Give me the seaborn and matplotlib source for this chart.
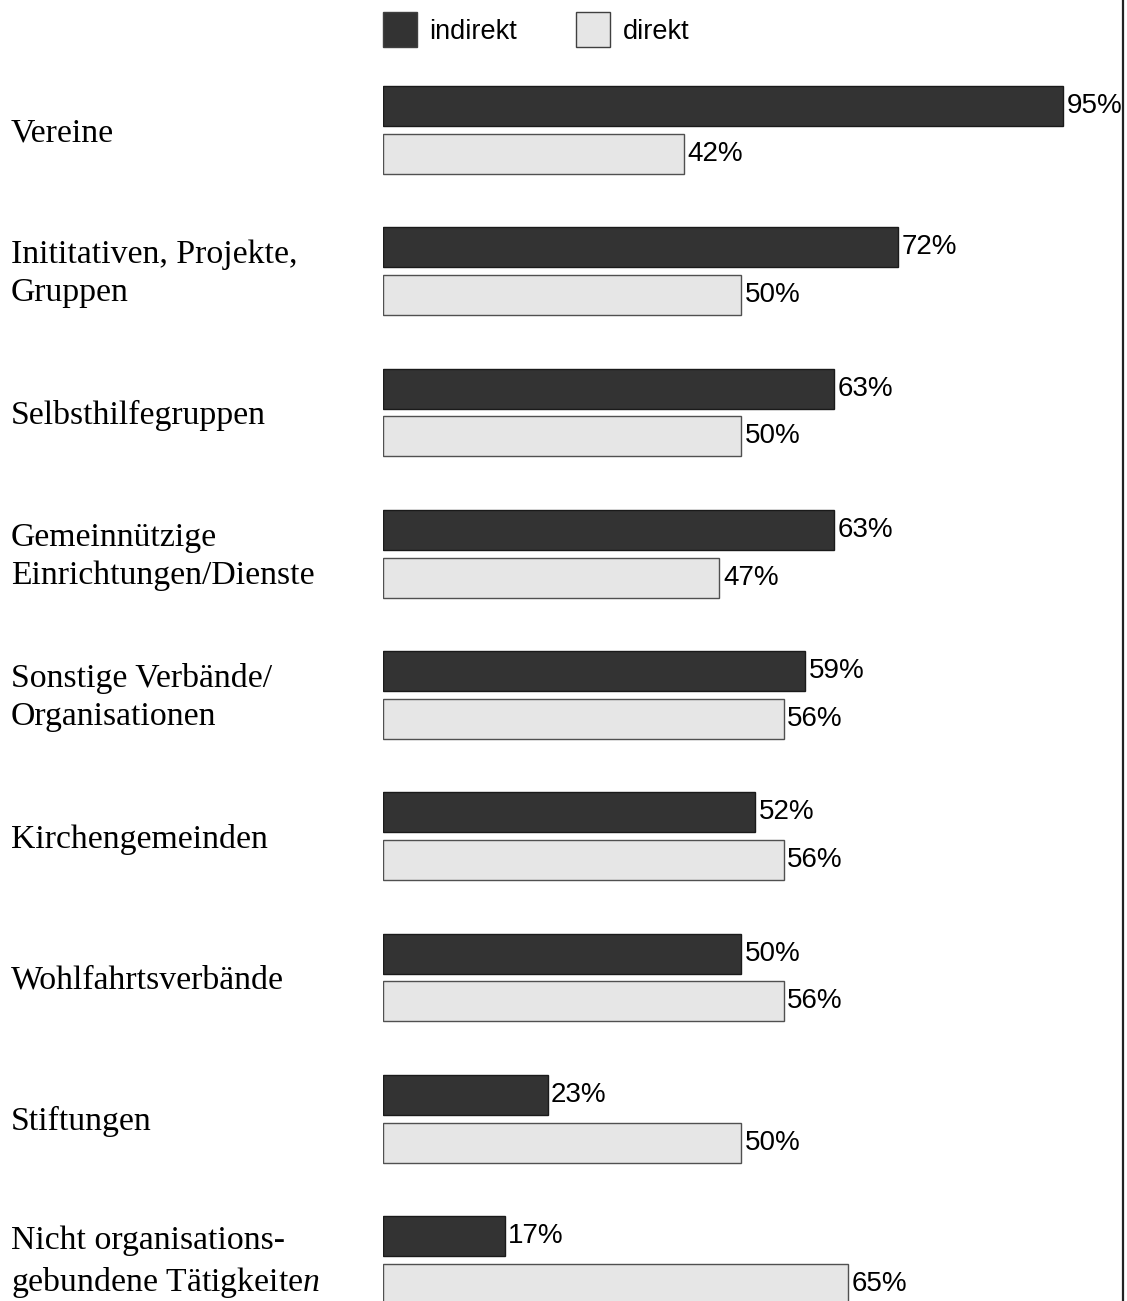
import pandas as pd
import matplotlib.pyplot as plt
import matplotlib.transforms as mtransforms
import seaborn as sns

categories = [
    "Vereine",
    "Inititativen, Projekte,\nGruppen",
    "Selbsthilfegruppen",
    "Gemeinnützige\nEinrichtungen/Dienste",
    "Sonstige Verbände/\nOrganisationen",
    "Kirchengemeinden",
    "Wohlfahrtsverbände",
    "Stiftungen",
    "Nicht organisations-\ngebundene Tätigkeite$\\mathit{n}$",
]
indirekt = [95, 72, 63, 63, 59, 52, 50, 23, 17]
direkt = [42, 50, 50, 47, 56, 56, 56, 50, 65]
series = ["indirekt", "direkt"]
colors = ["#333333", "#e6e6e6"]


def main():
    sns.set_style("white")
    plt.rcParams["font.family"] = ["Liberation Sans", "DejaVu Sans"]
    plt.rcParams["text.color"] = "black"
    plt.rcParams["mathtext.fontset"] = "custom"
    plt.rcParams["mathtext.rm"] = "Liberation Serif"
    plt.rcParams["mathtext.it"] = "Liberation Serif:italic"

    df = pd.DataFrame({
        "cat": list(range(len(categories))) * 2,
        "value": indirekt + direkt,
        "series": ["indirekt"] * len(indirekt) + ["direkt"] * len(direkt),
    })
    df["cat"] = df["cat"].astype(str)

    fig = plt.figure(figsize=(11.27, 13.01), dpi=100)
    ax = fig.add_axes([383 / 1127, 0, (1123 - 383) / 1127, 1])

    sns.barplot(
        data=df, y="cat", x="value", hue="series", hue_order=series,
        palette=colors, orient="h", width=0.674, gap=0.16,
        edgecolor="#404040", linewidth=1, ax=ax,
    )
    for patch, col in zip(ax.patches, ["#1a1a1a"] * 9 + ["#505050"] * 9):
        patch.set_edgecolor(col)

    ax.set_xlim(0, (1123 - 383) / 7.158)
    ax.set_ylim(8 + 41 / 141.25, -130 / 141.25)
    ax.set_xlabel("")
    ax.set_ylabel("")
    ax.set_xticks([])
    ax.set_yticks([])
    for side in ["left", "top", "bottom"]:
        ax.spines[side].set_visible(False)
    ax.spines["right"].set_color("#222222")
    ax.spines["right"].set_linewidth(1.6)

    for container in ax.containers:
        texts = ax.bar_label(container, fmt="%d%%", padding=2.5, fontsize=20,
                             color="black")
        for t in texts:
            t.set_va("center")

    trans = mtransforms.blended_transform_factory(fig.transFigure, ax.transData)
    for i, label in enumerate(categories):
        ax.text(11 / 1127, i + 0.02, label, transform=trans, ha="left",
                va="center", family="Liberation Serif", fontsize=24.3,
                linespacing=1.33, color="black", clip_on=False)

    handles, labels = ax.get_legend_handles_labels()
    leg = ax.legend(
        handles, labels, ncol=2, frameon=False, fontsize=19.5,
        loc="upper left", bbox_to_anchor=(-0.022, 1.003),
        handlelength=1.25, handleheight=1.6, handletextpad=0.45,
        columnspacing=2.2, borderaxespad=0.2,
    )
    for t in leg.get_texts():
        t.set_color("black")

    fig.savefig("out.png", dpi=100)
    plt.close()


if __name__ == "__main__":
    main()
